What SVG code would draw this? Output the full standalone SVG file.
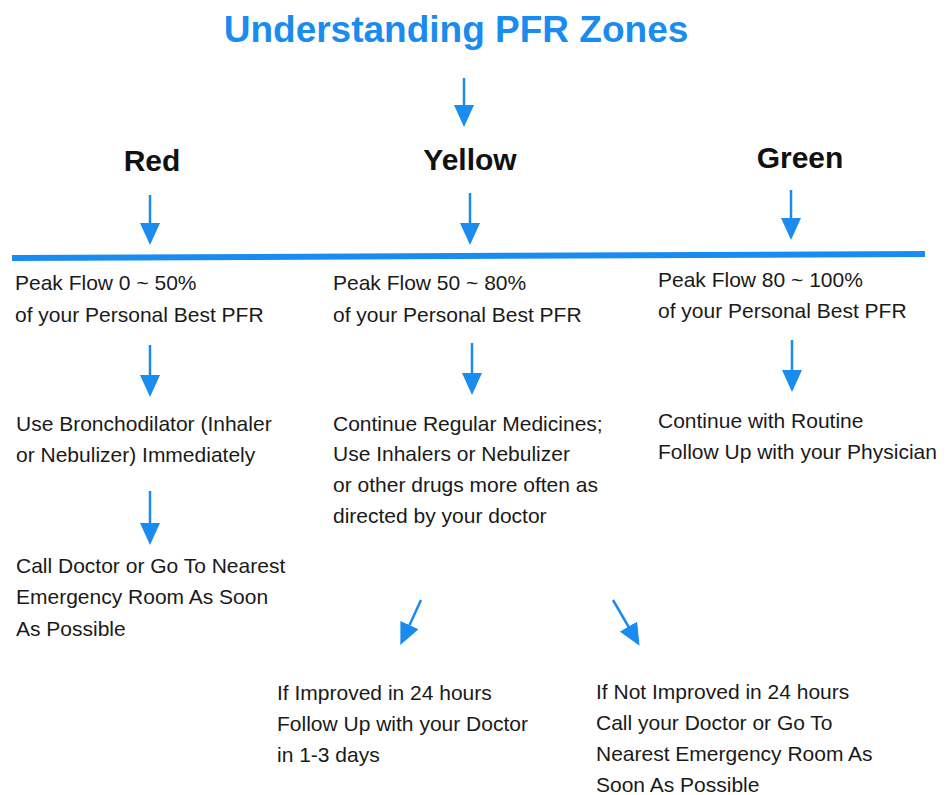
<svg xmlns="http://www.w3.org/2000/svg" width="946" height="795" viewBox="0 0 946 795">
<style>
.title{font-family:"Liberation Sans",Arial,sans-serif;font-weight:bold;font-size:37px;fill:#1a8cf0}
.zone{font-family:"Liberation Sans",Arial,sans-serif;font-weight:bold;font-size:30px;fill:#111}
.t{font-family:"Liberation Sans",Arial,sans-serif;font-size:21px;fill:#1a1a1a}
.c{stroke:#1a8cf0;stroke-width:2.5;fill:none;marker-end:url(#ah)}
</style>
<defs>
<marker id="ah" viewBox="0 0 22 20" refX="12" refY="10" markerWidth="22" markerHeight="20" markerUnits="userSpaceOnUse" orient="auto">
<path d="M0,0 L22,10 L0,20 z" fill="#1a8cf0"/>
</marker>
</defs>
<rect width="946" height="795" fill="#fff"/>
<g id="title"><text class="title" x="456" y="42" text-anchor="middle">Understanding PFR Zones</text></g>
<g id="red"><text class="zone" x="152" y="171" text-anchor="middle">Red</text></g>
<g id="yellow"><text class="zone" x="470" y="170" text-anchor="middle">Yellow</text></g>
<g id="green"><text class="zone" x="800" y="168" text-anchor="middle">Green</text></g>
<g id="red-range"><text class="t" x="15" y="290">Peak Flow 0 ~ 50%</text><text class="t" x="15" y="322">of your Personal Best PFR</text></g>
<g id="red-action"><text class="t" x="16" y="431">Use Bronchodilator (Inhaler</text><text class="t" x="16" y="462">or Nebulizer) Immediately</text></g>
<g id="red-emergency"><text class="t" x="16" y="573">Call Doctor or Go To Nearest</text><text class="t" x="16" y="604">Emergency Room As Soon</text><text class="t" x="16" y="636">As Possible</text></g>
<g id="yellow-range"><text class="t" x="333" y="290">Peak Flow 50 ~ 80%</text><text class="t" x="333" y="322">of your Personal Best PFR</text></g>
<g id="yellow-action"><text class="t" x="333" y="431">Continue Regular Medicines;</text><text class="t" x="333" y="461">Use Inhalers or Nebulizer</text><text class="t" x="333" y="492">or other drugs more often as</text><text class="t" x="333" y="523">directed by your doctor</text></g>
<g id="green-range"><text class="t" x="658" y="287">Peak Flow 80 ~ 100%</text><text class="t" x="658" y="318">of your Personal Best PFR</text></g>
<g id="green-action"><text class="t" x="658" y="428">Continue with Routine</text><text class="t" x="658" y="459">Follow Up with your Physician</text></g>
<g id="improved"><text class="t" x="277" y="700">If Improved in 24 hours</text><text class="t" x="277" y="731">Follow Up with your Doctor</text><text class="t" x="277" y="762">in 1-3 days</text></g>
<g id="not-improved"><text class="t" x="596" y="699">If Not Improved in 24 hours</text><text class="t" x="596" y="730">Call your Doctor or Go To</text><text class="t" x="596" y="761">Nearest Emergency Room As</text><text class="t" x="596" y="792">Soon As Possible</text></g>
<g id="connectors">
<line x1="12" y1="258" x2="925" y2="254" stroke="#1a8cf0" stroke-width="6"/>
<line class="c" x1="464" y1="78" x2="464" y2="117"/>
<line class="c" x1="150" y1="195" x2="150" y2="235"/>
<line class="c" x1="470" y1="193" x2="470" y2="235"/>
<line class="c" x1="791" y1="190" x2="791" y2="230"/>
<line class="c" x1="150" y1="345" x2="150" y2="387"/>
<line class="c" x1="472" y1="343" x2="472" y2="385"/>
<line class="c" x1="792" y1="340" x2="792" y2="382"/>
<line class="c" x1="150" y1="491" x2="150" y2="535"/>
<line class="c" x1="421" y1="600" x2="404.5" y2="636"/>
<line class="c" x1="613" y1="600" x2="634.5" y2="637"/>
</g>
</svg>
